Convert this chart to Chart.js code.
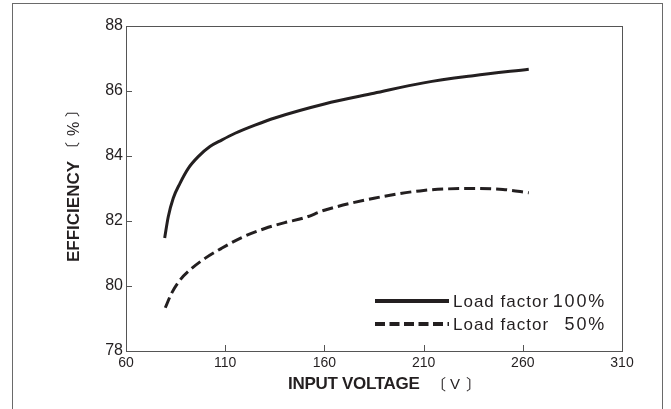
<!DOCTYPE html>
<html>
<head>
<meta charset="utf-8">
<script src="https://cdn.jsdelivr.net/npm/chart.js@4.4.1/dist/chart.umd.min.js"></script>
<style>
  html, body { margin: 0; padding: 0; background: #fff; }
  #wrap { position: relative; width: 671px; height: 409px; overflow: hidden; }
  #frame { position: absolute; left: 12px; top: 3px; width: 651px; height: 420px;
           border: 1px solid #6a6a6a; box-sizing: border-box; }
  canvas { position: absolute; left: 0; top: 0; }
</style>
</head>
<body>
<div id="wrap">
  <div id="frame"></div>
  <canvas id="effChart" width="671" height="409"></canvas>
</div>
<script>
// values
const volts100 = [79.5, 81.3, 83.8, 87.2, 91.4, 96.4, 102.3, 108.2, 115, 125, 135, 160, 185, 210, 235, 263];
const eff100 = [81.48, 82.13, 82.7, 83.16, 83.62, 83.98, 84.29, 84.49, 84.7, 84.95, 85.17, 85.6, 85.93, 86.25, 86.47, 86.67];
const volts50 = [79.8, 83, 87.2, 93.1, 99.8, 108.2, 118.3, 130, 140, 150, 160, 185, 210, 235, 250, 263];
const eff50 = [79.33, 79.78, 80.18, 80.54, 80.85, 81.16, 81.49, 81.77, 81.95, 82.1, 82.33, 82.7, 82.94, 83.0, 82.97, 82.87];

const seriesNames = ['Load factor', 'Load factor'];
const seriesPct = ['100%', '50%'];
const xTicks = [60, 110, 160, 210, 260, 310];
const yTicks = [78, 80, 82, 84, 86, 88];

const ink = '#231f20';
const axisGray = '#555';
const cjk = '"Noto Sans CJK JP", sans-serif';

function toPoints(xs, ys) {
  return xs.map((x, i) => ({ x, y: ys[i] }));
}

// font size at which a glyph's ink is `len` px tall
function sizeForInk(ctx, s, len) {
  ctx.font = '100px ' + cjk;
  const m = ctx.measureText(s);
  return 100 * len / (m.actualBoundingBoxAscent + m.actualBoundingBoxDescent);
}

// draws s so its ink starts at `left` (or ends at `right`) and is centred on cy
function inkText(ctx, s, left, right, cy) {
  const m = ctx.measureText(s);
  const x = left != null ? left + m.actualBoundingBoxLeft : right - m.actualBoundingBoxRight;
  const y = cy + (m.actualBoundingBoxAscent - m.actualBoundingBoxDescent) / 2;
  ctx.fillText(s, x, y);
}

// plot box, inward tick marks, axis titles and the in-plot legend
const decorations = {
  id: 'decorations',
  afterDraw(chart) {
    const ctx = chart.ctx;
    const area = chart.chartArea;
    const xs = chart.scales.x;
    const ys = chart.scales.y;
    ctx.save();

    ctx.strokeStyle = axisGray;
    ctx.lineWidth = 1;
    ctx.strokeRect(area.left + 0.5, area.top + 0.5, area.right - area.left, area.bottom - area.top);

    ctx.beginPath();
    xTicks.slice(1, -1).forEach((v) => {
      const px = Math.round(xs.getPixelForValue(v)) + 0.5;
      ctx.moveTo(px, area.bottom);
      ctx.lineTo(px, area.bottom - 6);
    });
    yTicks.slice(1, -1).forEach((v) => {
      const py = Math.round(ys.getPixelForValue(v)) + 0.5;
      ctx.moveTo(area.left, py);
      ctx.lineTo(area.left + 6, py);
    });
    ctx.stroke();

    // axis titles
    const bracketSize = sizeForInk(ctx, '〔', 14.5);
    ctx.fillStyle = ink;
    ctx.textBaseline = 'alphabetic';
    ctx.textAlign = 'left';
    ctx.font = 'bold 17px "Liberation Sans", Arial, sans-serif';
    ctx.letterSpacing = '-0.3px';
    ctx.fillText('INPUT VOLTAGE', 288, 389);
    ctx.letterSpacing = '0px';
    ctx.font = bracketSize + 'px ' + cjk;
    inkText(ctx, '〔', 441, null, 384);
    inkText(ctx, '〕', null, 471, 384);
    ctx.font = '15px "Liberation Sans", Arial, sans-serif';
    ctx.fillText('V', 450, 389);

    ctx.save();
    ctx.translate(79, 262);
    ctx.rotate(-Math.PI / 2);
    ctx.font = 'bold 17px "Liberation Sans", Arial, sans-serif';
    ctx.fillText('EFFICIENCY', 0, 0);
    ctx.font = bracketSize + 'px ' + cjk;
    inkText(ctx, '〔', 115, null, -7);
    inkText(ctx, '〕', null, 150, -7);
    ctx.font = '16px "Liberation Sans", Arial, sans-serif';
    ctx.fillText('%', 126, 0);
    ctx.restore();

    // legend
    const rows = [301, 324];
    chart.data.datasets.forEach((ds, i) => {
      const y = rows[i];
      ctx.beginPath();
      ctx.strokeStyle = ds.borderColor;
      ctx.lineWidth = 4;
      ctx.setLineDash(ds.borderDash ? [10, 4.5] : []);
      ctx.moveTo(375, y);
      ctx.lineTo(449, y);
      ctx.stroke();
      ctx.setLineDash([]);
      ctx.fillStyle = ink;
      ctx.font = '17px "Liberation Sans", Arial, sans-serif';
      ctx.textAlign = 'left';
      ctx.letterSpacing = '1px';
      ctx.fillText(seriesNames[i], 453, y + 6);
      ctx.font = '18px "Liberation Sans", Arial, sans-serif';
      ctx.textAlign = 'right';
      ctx.letterSpacing = '1.8px';
      ctx.fillText(seriesPct[i], 606, y + 6);
    });

    ctx.restore();
  }
};

new Chart(document.getElementById('effChart'), {
  type: 'line',
  data: {
    datasets: [
      {
        label: seriesNames[0] + seriesPct[0],
        data: toPoints(volts100, eff100),
        borderColor: ink,
        borderWidth: 3,
        pointRadius: 0,
        fill: false,
        cubicInterpolationMode: 'monotone'
      },
      {
        label: seriesNames[1] + '  ' + seriesPct[1],
        data: toPoints(volts50, eff50),
        borderColor: ink,
        borderWidth: 3,
        borderDash: [11, 5],
        pointRadius: 0,
        fill: false,
        cubicInterpolationMode: 'monotone'
      }
    ]
  },
  options: {
    responsive: false,
    animation: false,
    devicePixelRatio: 1,
    layout: { padding: { left: 12, top: 26, right: 49, bottom: 20 } },
    plugins: {
      legend: { display: false },
      tooltip: { enabled: false }
    },
    scales: {
      x: {
        type: 'linear',
        min: 60,
        max: 310,
        afterFit: (scale) => { scale.height = 38; },
        afterBuildTicks: (scale) => { scale.ticks = xTicks.map((v) => ({ value: v })); },
        grid: { display: false, drawTicks: false },
        border: { display: false },
        ticks: {
          padding: 4,
          color: ink,
          font: { family: '"Liberation Sans", Arial, sans-serif', size: 14 }
        }
      },
      y: {
        type: 'linear',
        min: 78,
        max: 88,
        afterFit: (scale) => { scale.width = 114; },
        afterBuildTicks: (scale) => { scale.ticks = yTicks.map((v) => ({ value: v })); },
        grid: { display: false, drawTicks: false },
        border: { display: false },
        ticks: {
          padding: 3,
          color: ink,
          font: { family: '"Liberation Sans", Arial, sans-serif', size: 16 }
        }
      }
    }
  },
  plugins: [decorations]
});
</script>
</body>
</html>
